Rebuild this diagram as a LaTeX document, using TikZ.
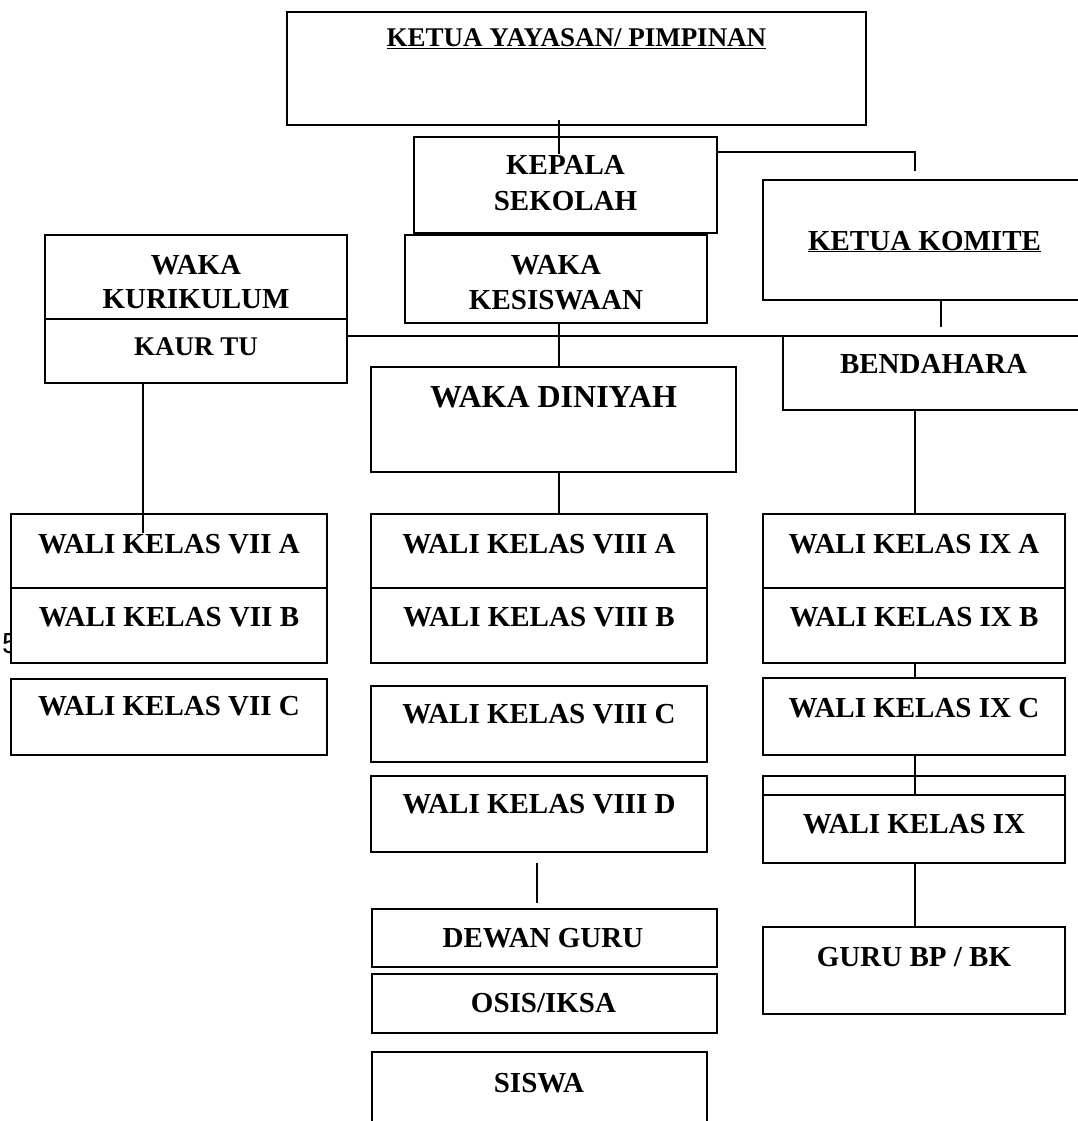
\documentclass[tikz,border=0pt]{standalone}
\usepackage{fontspec}
\setmainfont{Liberation Serif}
\newfontfamily\arialf{Liberation Sans}
\begin{document}
\begin{tikzpicture}[x=1pt,y=-1pt,
  box/.style={draw, line width=1.8pt, fill=white, inner sep=0pt, outer sep=0pt},
  lbl/.style={anchor=base, inner sep=0pt, font=\bfseries\fontsize{29}{34}\selectfont},
  lblsm/.style={anchor=base, inner sep=0pt, font=\bfseries\fontsize{27}{32}\selectfont},
  lblbig/.style={anchor=base, inner sep=0pt, font=\bfseries\fontsize{32}{38}\selectfont},
  conn/.style={line width=1.8pt}]
\useasboundingbox (0,0) rectangle (1077,1121);
\fill[white] (0,0) rectangle (1077,1121);

% clipped stray digit at the left margin
\node[anchor=base west, inner sep=0pt, font=\arialf\fontsize{29}{34}\selectfont] (stray) at (2,653) {5};

% boxes
\node[box, minimum width=579pt, minimum height=113pt] (yay) at (576.5,68.5) {};
\node[box, minimum width=303pt, minimum height=96pt] (kep) at (565.5,185) {};
\node[box, minimum width=327pt, minimum height=120pt] (kom) at (926.5,240) {};
\node[box, minimum width=302pt, minimum height=84pt] (kur) at (196,277) {};
\node[box, minimum width=302pt, minimum height=64pt] (kaur) at (196,351) {};
\node[box, minimum width=302pt, minimum height=88pt] (kes) at (556,279) {};
\node[box, minimum width=307pt, minimum height=74pt] (ben) at (936.5,373) {};
\node[box, minimum width=365pt, minimum height=105pt] (din) at (553.5,419.5) {};

\node[box, minimum width=316pt, minimum height=74pt] (v7a) at (169,551) {};
\node[box, minimum width=316pt, minimum height=75pt] (v7b) at (169,625.5) {};
\node[box, minimum width=316pt, minimum height=76pt] (v7c) at (169,717) {};

\node[box, minimum width=336pt, minimum height=74pt] (v8a) at (539,551) {};
\node[box, minimum width=336pt, minimum height=75pt] (v8b) at (539,625.5) {};
\node[box, minimum width=336pt, minimum height=76pt] (v8c) at (539,724) {};
\node[box, minimum width=336pt, minimum height=76pt] (v8d) at (539,814) {};
\node[box, minimum width=345pt, minimum height=58pt] (dewan) at (544.5,938) {};
\node[box, minimum width=345pt, minimum height=59pt] (osis) at (544.5,1003.5) {};
\node[box, minimum width=335pt, minimum height=90pt] (siswa) at (539.5,1097) {};

\node[box, minimum width=302pt, minimum height=74pt] (v9a) at (914,551) {};
\node[box, minimum width=302pt, minimum height=75pt] (v9b) at (914,625.5) {};
\node[box, minimum width=302pt, minimum height=77pt] (v9c) at (914,716.5) {};
\node[box, minimum width=302pt, minimum height=19pt] (v9top) at (914,785.5) {};
\node[box, minimum width=302pt, minimum height=68pt] (v9) at (914,829) {};
\node[box, minimum width=302pt, minimum height=87pt] (bp) at (914,970.5) {};

% connectors
\coordinate (yk1) at (559,120);
\coordinate (yk2) at (559,154);
\draw[conn] (yk1) -- (yk2);
\coordinate (kk) at (915,171);
\draw[conn] (kep.east |- 0,152) -| (kk);
\coordinate (kb) at (941,327);
\draw[conn] (kom.south -| kb) -- (kb);
\coordinate (hr) at (1090,336);
\draw[conn] (kaur.east |- hr) -- (hr);
\draw[conn] (kes.south -| 559,0) -- (din.north -| 559,0);
\draw[conn] (din.south -| 559,0) -- (v8a.north -| 559,0);
\coordinate (k7) at (143,533);
\draw[conn] (kaur.south -| k7) -- (k7);
\draw[conn] (ben.south -| 915,0) -- (v9a.north -| 915,0);
\draw[conn] (v9b.south -| 915,0) -- (v9c.north -| 915,0);
\draw[conn] (v9c.south -| 915,0) -- (v9top.south -| 915,0);
\draw[conn] (v9.south -| 915,0) -- (bp.north -| 915,0);
\coordinate (sd1) at (537,863);
\coordinate (sd2) at (537,903);
\draw[conn] (sd1) -- (sd2);

% labels
\node[lblsm] (tyay) at (576.5,47) {\underline{KETUA YAYASAN/ PIMPINAN}};
\node[lbl] (tkep1) at (565.5,174) {KEPALA};
\node[lbl] (tkep2) at (565.5,210) {SEKOLAH};
\node[lbl] (tkom) at (924.5,250) {\underline{KETUA KOMITE}};
\node[lbl] (tkur1) at (196,274) {WAKA};
\node[lbl] (tkur2) at (196,308) {KURIKULUM};
\node[lblsm] (tkaur) at (196,355) {KAUR TU};
\node[lbl] (tkes1) at (556,274) {WAKA};
\node[lbl] (tkes2) at (556,309) {KESISWAAN};
\node[lbl] (tben) at (933.5,373) {BENDAHARA};
\node[lblbig] (tdin) at (553.5,407) {WAKA DINIYAH};

\node[lbl] (t7a) at (169,553) {WALI KELAS VII A};
\node[lbl] (t7b) at (169,626) {WALI KELAS VII B};
\node[lbl] (t7c) at (169,715) {WALI KELAS VII C};

\node[lbl] (t8a) at (539,553) {WALI KELAS VIII A};
\node[lbl] (t8b) at (539,626) {WALI KELAS VIII B};
\node[lbl] (t8c) at (539,723) {WALI KELAS VIII C};
\node[lbl] (t8d) at (539,813) {WALI KELAS VIII D};
\node[lbl] (tdewan) at (543,947) {DEWAN GURU};
\node[lbl] (tosis) at (543.5,1012) {OSIS/IKSA};
\node[lbl] (tsiswa) at (539,1092) {SISWA};

\node[lbl] (t9a) at (914,553) {WALI KELAS IX A};
\node[lbl] (t9b) at (914,626) {WALI KELAS IX B};
\node[lbl] (t9c) at (914,717) {WALI KELAS IX C};
\node[lbl] (t9) at (914,833) {WALI KELAS IX};
\node[lbl] (tbp) at (914,966) {GURU BP / BK};
\end{tikzpicture}
\end{document}
